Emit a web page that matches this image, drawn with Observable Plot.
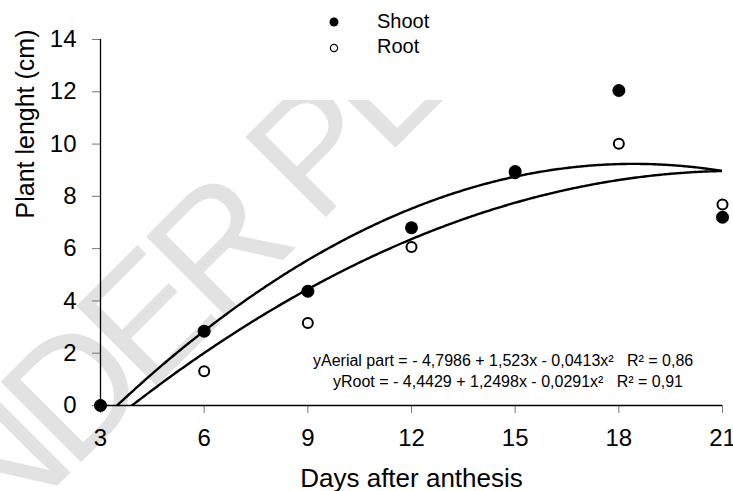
<!DOCTYPE html>
<html>
<head>
<meta charset="utf-8">
<script src="https://cdn.jsdelivr.net/npm/d3@7"></script>
<script src="https://cdn.jsdelivr.net/npm/@observablehq/plot@0.6"></script>
<style>
  html, body { margin: 0; padding: 0; background: #fff; }
  #wrap { position: relative; width: 733px; height: 491px; overflow: hidden; font-family: "Liberation Sans", Arial, sans-serif; }
  #wm, #over { position: absolute; left: 0; top: 0; }
  #wm { z-index: 0; }
  #chart { position: relative; z-index: 1; }
  #over { z-index: 2; pointer-events: none; }
</style>
</head>
<body>
<div id="wrap">
  <svg id="wm" width="733" height="491">
    <defs><clipPath id="wmclip"><rect x="0" y="100" width="733" height="391"></rect></clipPath></defs>
    <g clip-path="url(#wmclip)">
      <text x="-80" y="623" transform="rotate(-45 -80 623)" font-size="165" letter-spacing="-12" fill="#e2e2e2" font-family="Liberation Sans, Arial, sans-serif">UNDER PEER REVIEW</text>
    </g>
  </svg>
  <div id="chart"></div>
  <svg id="over" width="733" height="491" font-family="Liberation Sans, Arial, sans-serif"></svg>
</div>
<script>
// ---- data ----
const days = [3, 6, 9, 12, 15, 18, 21];
const shoot = [0, 2.84, 4.37, 6.80, 8.95, 12.05, 7.20];
const root = [0, 1.31, 3.16, 6.06, 8.88, 10.01, 7.69];
const aerialCoef = [-4.7986, 1.523, -0.0413];
const rootCoef = [-4.4429, 1.2498, -0.0291];
const xTicks = [3, 6, 9, 12, 15, 18, 21];
const yTicks = [0, 2, 4, 6, 8, 10, 12, 14];
const seriesNames = ["Shoot", "Root"];
const equations = [
  "yAerial part = - 4,7986 + 1,523x - 0,0413x\u00B2   R\u00B2 = 0,86",
  "yRoot = - 4,4429 + 1,2498x - 0,0291x\u00B2   R\u00B2 = 0,91"
];

const shootPts = days.map((d, i) => ({x: d, y: shoot[i]}));
const rootPts = days.map((d, i) => ({x: d, y: root[i]}));
const fit = c => d3.range(3, 21.0001, 0.05).map(x => ({x, y: c[0] + c[1] * x + c[2] * x * x}));

const font = "Liberation Sans, Arial, sans-serif";

const chart = Plot.plot({
  width: 733,
  height: 491,
  marginLeft: 100,
  marginRight: 11,
  marginTop: 39,
  marginBottom: 86,
  style: {background: "transparent", fontFamily: font, fontSize: "24px", color: "#000", overflow: "visible"},
  x: {domain: [3, 21]},
  y: {domain: [0, 14]},
  marks: [
    Plot.axisX({ticks: xTicks, tickSize: 8, tickPadding: 15, stroke: "#777", fill: "#000", fontSize: 24, label: null, tickFormat: d => String(d)}),
    Plot.axisY({ticks: yTicks, tickSize: 8, tickPadding: 16, stroke: "#777", fill: "#000", fontSize: 24, label: null, tickFormat: d => String(d)}),
    Plot.ruleY([0], {stroke: "#000", strokeWidth: 1.3}),
    Plot.ruleX([3], {stroke: "#000", strokeWidth: 1.3}),
    Plot.line(fit(aerialCoef), {x: "x", y: "y", stroke: "#000", strokeWidth: 2.4, clip: true}),
    Plot.line(fit(rootCoef), {x: "x", y: "y", stroke: "#000", strokeWidth: 2.4, clip: true}),
    Plot.dot(rootPts, {x: "x", y: "y", r: 5, fill: "#fff", stroke: "#000", strokeWidth: 2}),
    Plot.dot(shootPts, {x: "x", y: "y", r: 6.5, fill: "#000", stroke: "none"}),
    Plot.text(["Days after anthesis"], {frameAnchor: "bottom", lineAnchor: "bottom", dy: 81, fontSize: 26, fill: "#000"}),
    Plot.text(["Plant lenght (cm)"], {frameAnchor: "left", lineAnchor: "bottom", rotate: -90, dx: -67, dy: -4, fontSize: 25, fill: "#000"})
  ]
});
document.getElementById("chart").appendChild(chart);

// ---- legend and equations (overlay) ----
const over = d3.select("#over");
const leg = [
  {name: seriesNames[0], cy: 22, baseline: 28, r: 4.5, fill: "#000", stroke: "none", sw: 0},
  {name: seriesNames[1], cy: 48, baseline: 53, r: 3.6, fill: "#fff", stroke: "#000", sw: 1.3}
];
leg.forEach(l => {
  over.append("circle").attr("cx", 334).attr("cy", l.cy).attr("r", l.r)
    .attr("fill", l.fill).attr("stroke", l.stroke).attr("stroke-width", l.sw);
  over.append("text").attr("x", 377).attr("y", l.baseline).attr("font-size", 20).attr("fill", "#000").text(l.name);
});
over.append("text").attr("x", 313).attr("y", 366).attr("font-size", 16).attr("fill", "#000")
  .attr("xml:space", "preserve").style("white-space", "pre").text(equations[0]);
over.append("text").attr("x", 333).attr("y", 387).attr("font-size", 16).attr("fill", "#000")
  .attr("xml:space", "preserve").style("white-space", "pre").text(equations[1]);
</script>
</body>
</html>
